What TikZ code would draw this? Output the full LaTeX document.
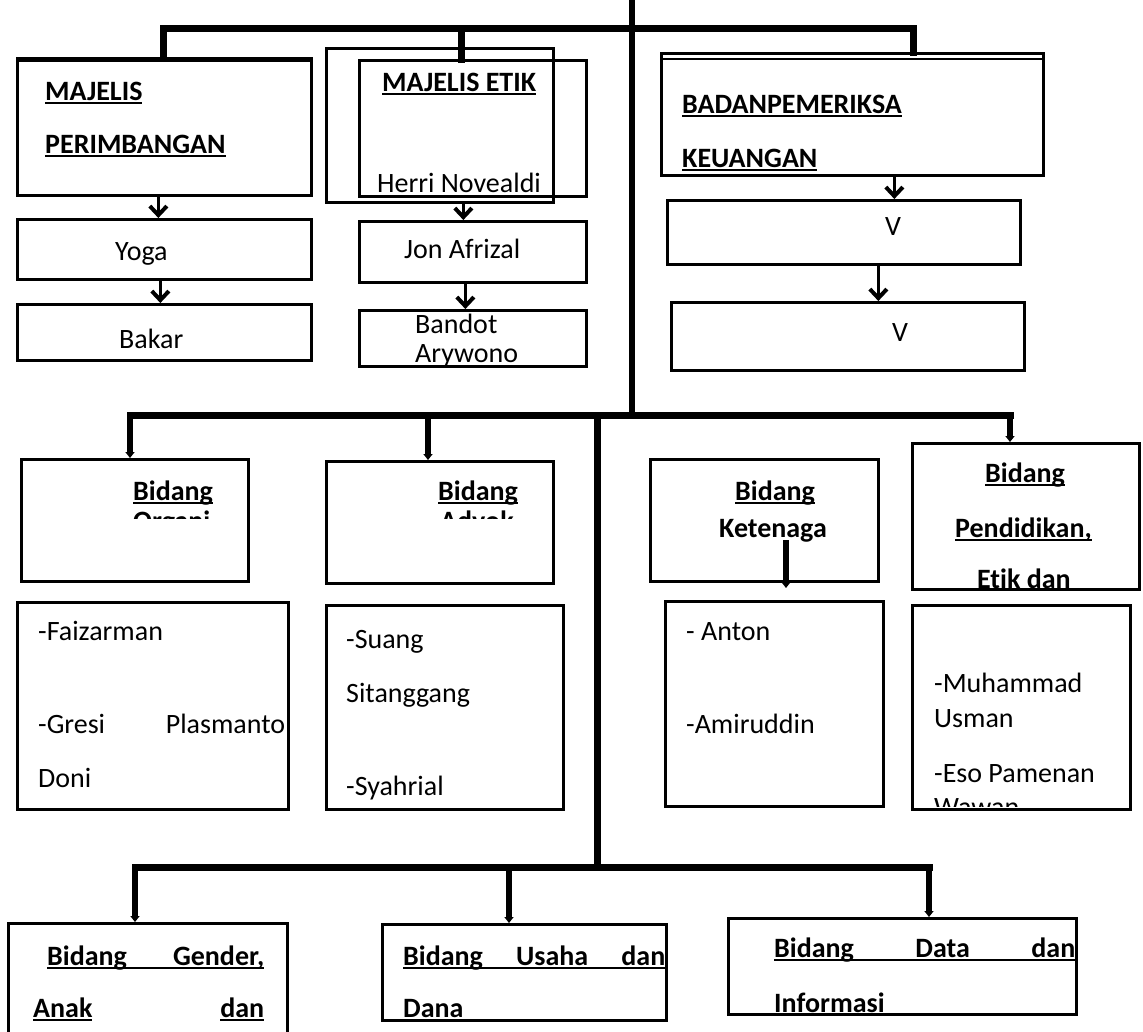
\documentclass[tikz,border=0pt]{standalone}
\usepackage{fontspec}
\setmainfont{Carlito}[Ligatures=NoCommon]
\usetikzlibrary{arrows.meta}
\newsavebox\ulbox
\newcommand\ul[1]{\sbox\ulbox{#1}\rlap{\rule[-4pt]{\wd\ulbox}{2pt}}\usebox\ulbox}

\begin{document}
\begin{tikzpicture}
  [x=1pt,y=-1pt,
   box/.style={draw,line width=2.7pt,inner sep=0pt,anchor=north west},
   txt/.style={inner sep=0pt,anchor=base west,font=\fontsize{28}{34}\selectfont},
   hd/.style={txt,font=\fontsize{28}{34}\selectfont\bfseries},
   bus/.style={line width=7pt,line cap=rect},
   trunk/.style={line width=6pt},
   drop/.style={line width=6pt,-{Triangle[length=6pt,width=9pt]}},
   arr/.style={line width=3.5pt,-{Straight Barb[length=9pt,width=17pt,line width=4pt]}}]
  \useasboundingbox (0,0) rectangle (1143,1031);
  \clip (0,0) rectangle (1143,1031);

  % top row
  \node[box,minimum width=294pt,minimum height=137pt] (mp) at (16,57) {};
  \node[box,minimum width=294pt,minimum height=60pt] (yoga) at (16,218) {};
  \node[box,minimum width=294pt,minimum height=56pt] (bakar) at (16,303) {};
  \node[box,minimum width=227pt,minimum height=154pt] (me) at (325,47) {};
  \node[box,minimum width=227pt,minimum height=136pt] (meb) at (358,59) {};
  \node[box,minimum width=227pt,minimum height=61pt] (jon) at (358,220) {};
  \node[box,minimum width=227pt,minimum height=56pt] (bandot) at (358,309) {};
  \node[box,minimum width=382pt,minimum height=122pt] (bpk) at (660,52) {};
  \node[box,minimum width=353pt,minimum height=64pt] (bv1) at (666,199) {};
  \node[box,minimum width=353pt,minimum height=68pt] (bv2) at (670,301) {};
  \draw[line width=2.5pt] ([yshift=-4pt]mp.north west) -- ([yshift=-4pt]mp.north east);
  \draw[line width=2.5pt] ([yshift=-7pt]bpk.north west) -- ([yshift=-7pt]bpk.north east);

  % bidang row
  \node[box,minimum width=227pt,minimum height=122pt] (org) at (20,458) {};
  \node[box,minimum width=227pt,minimum height=122pt] (adv) at (325,460) {};
  \node[box,minimum width=228pt,minimum height=122pt] (ket) at (649,458) {};
  \node[box,minimum width=227pt,minimum height=146pt] (pen) at (911,442) {};
  \node[box,minimum width=271pt,minimum height=207pt] (orgm) at (16,601) {};
  \node[box,minimum width=237pt,minimum height=204pt] (advm) at (325,604) {};
  \node[box,minimum width=218pt,minimum height=205pt] (ketm) at (664,600) {};
  \node[box,minimum width=218pt,minimum height=204pt] (penm) at (911,604) {};

  % bottom row
  \node[box,minimum width=279pt,minimum height=130pt] (gen) at (7,922) {};
  \node[box,minimum width=284pt,minimum height=96pt] (usa) at (381,923) {};
  \node[box,minimum width=348pt,minimum height=96pt] (dat) at (727,917) {};

  % texts
  \node[hd] (mpt1) at (45,100) {\ul{MAJELIS}};
  \node[hd] (mpt2) at (45,153) {\ul{PERIMBANGAN}};
  \node[txt] (yogat) at (115,260) {Yoga};
  \node[txt] (bakart) at (119,348) {Bakar};
  \node[hd] (met) at (382,91) {\ul{MAJELIS ETIK}};
  \node[txt] (herri) at (377,192) {Herri Novealdi};
  \node[txt] (jont) at (404,258) {Jon Afrizal};
  \node[txt] (bandt1) at (415,333) {Bandot};
  \node[txt] (bandt2) at (415,362) {Arywono};
  \node[hd] (bpkt1) at (682,113) {\ul{BADANPEMERIKSA}};
  \node[hd] (bpkt2) at (682,167) {\ul{KEUANGAN}};
  \node[txt] (bv1t) at (885,235) {V};
  \node[txt] (bv2t) at (892,341) {V};

  \node[hd] (orgt) at (133,500) {\ul{Bidang}};
  \begin{scope}
    \clip (120,508) rectangle (260,518);
    \node[hd] (orgt2) at (133,530) {Organi};
  \end{scope}
  \node[hd] (advt) at (438,500) {\ul{Bidang}};
  \begin{scope}
    \clip (425,508) rectangle (560,518);
    \node[hd] (advt2) at (440,530) {Advok};
  \end{scope}
  \node[hd] (kett1) at (735,500) {\ul{Bidang}};
  \node[hd] (kett2) at (719,537) {Ketenaga};
  \node[hd] (pent1) at (985,482) {\ul{Bidang}};
  \node[hd] (pent2) at (955,537) {\ul{Pendidikan,}};
  \node[hd] (pent3) at (977,588) {Etik dan};

  \node[txt] (m1a) at (38,640) {-Faizarman};
  \node[txt] (m1b) at (38,733) {\makebox[247pt][s]{-Gresi Plasmanto}};
  \node[txt] (m1c) at (38,787) {Doni};
  \node[txt] (m2a) at (346,648) {-Suang};
  \node[txt] (m2b) at (346,702) {Sitanggang};
  \node[txt] (m2c) at (346,795) {-Syahrial};
  \node[txt] (m3a) at (686,640) {- Anton};
  \node[txt] (m3b) at (686,733) {-Amiruddin};
  \node[txt] (m4a) at (934,692) {-Muhammad};
  \node[txt] (m4b) at (934,727) {Usman};
  \node[txt] (m4c) at (934,782) {-Eso Pamenan};
  \begin{scope}
    \clip (920,795) rectangle (1120,806);
    \node[txt] (m4d) at (934,816) {Wawan};
  \end{scope}

  \node[hd] (gent1) at (47,965) {\ul{\makebox[217pt][s]{Bidang Gender,}}};
  \node[hd] (gent2) at (33,1017) {\makebox[231pt][s]{\ul{Anak} \ul{dan}}};
  \node[hd] (usat1) at (403,965) {\ul{\makebox[262pt][s]{Bidang Usaha dan}}};
  \node[hd] (usat2) at (403,1017) {\ul{Dana}};
  \node[hd] (datt1) at (774,957) {\ul{\makebox[301pt][s]{Bidang Data dan}}};
  \node[hd] (datt2) at (774,1012) {\ul{Informasi}};

  % lines
  \coordinate (top) at (632,0);
  \coordinate (hub) at (632,415);
  \coordinate (ja) at (163,28);
  \coordinate (jb) at (461,28);
  \coordinate (jc) at (913,28);
  \draw[trunk] (top) -- (hub);
  \draw[bus,line join=miter] (ja |- mp.north) -- (ja) -- (jc) -- (jc |- bpk.north);
  \draw[bus] (jb) -- (jb |- meb.north);

  \coordinate (ka) at (130,415);
  \coordinate (kb) at (428,415);
  \coordinate (kc) at (1010,415);
  \coordinate (kd) at (597,415);
  \draw[bus] (ka) -- (kc);
  \draw[drop] (ka) -- (ka |- org.north);
  \draw[drop] (kb) -- (kb |- adv.north);
  \draw[drop] (kc) -- (kc |- pen.north);
  \coordinate (kt1) at (786,540);
  \coordinate (kt2) at (786,588);
  \draw[drop] (kt1) -- (kt2);

  \coordinate (la) at (597,867);
  \draw[bus] (kd) -- (la);
  \coordinate (ma) at (135,867);
  \coordinate (mb) at (509,867);
  \coordinate (mc) at (929,867);
  \draw[bus] (ma) -- (mc);
  \draw[drop] (ma) -- (ma |- gen.north);
  \draw[drop] (mb) -- (mb |- usa.north);
  \draw[drop] (mc) -- (mc |- dat.north);

  \draw[arr] ([xshift=-6pt]mp.south) -- ([xshift=-6pt]mp.south |- yoga.north);
  \draw[arr] ([xshift=-4pt]yoga.south) -- ([xshift=-4pt]yoga.south |- bakar.north);
  \draw[arr] ([xshift=23.5pt]me.south) -- ([xshift=23.5pt]me.south |- jon.north);
  \draw[arr] ([xshift=-7.5pt]jon.south) -- ([xshift=-7.5pt]jon.south |- bandot.north);
  \draw[arr] ([xshift=42pt]bpk.south) -- ([xshift=42pt]bpk.south |- bv1.north);
  \draw[arr] ([xshift=34.5pt]bv1.south) -- ([xshift=34.5pt]bv1.south |- bv2.north);
\end{tikzpicture}
\end{document}
